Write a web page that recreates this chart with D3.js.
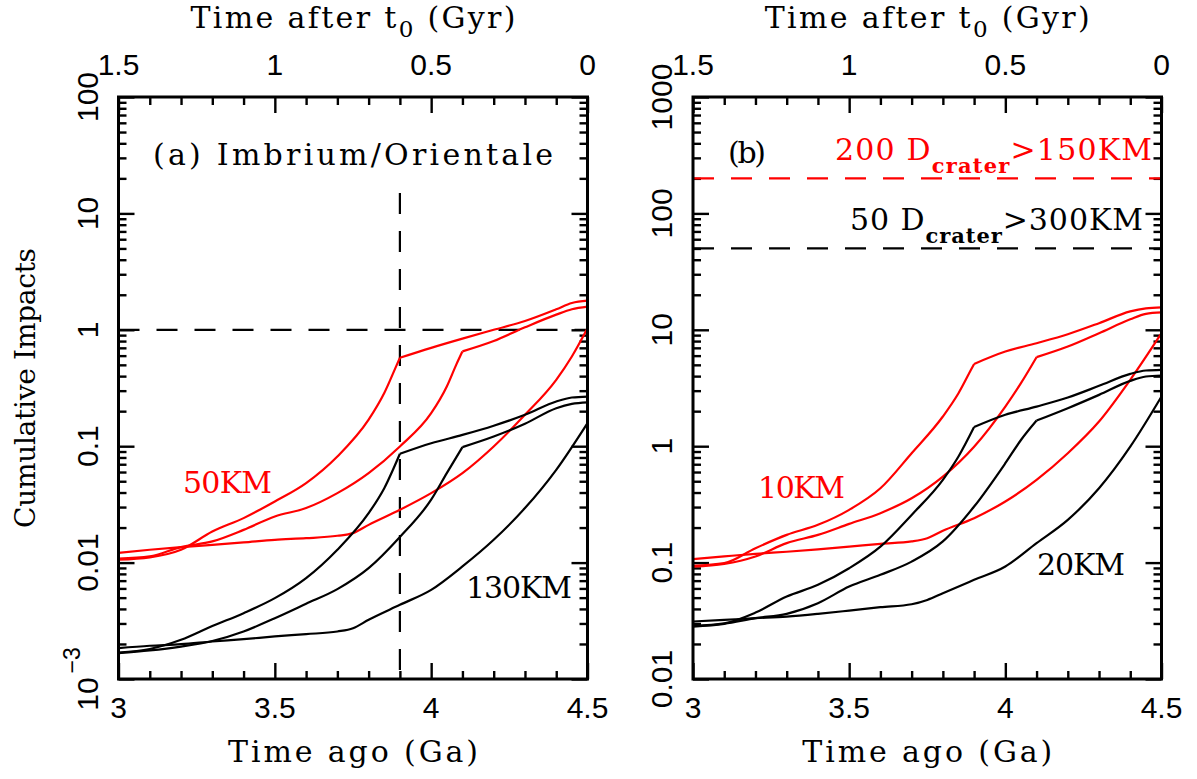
<!DOCTYPE html>
<html><head><meta charset="utf-8">
<script src="https://cdn.jsdelivr.net/npm/d3@7"></script>
<style>body{margin:0;background:#fff}</style>
</head><body>
<svg id="c" width="1197" height="779" xmlns="http://www.w3.org/2000/svg"></svg>
<script>
// ---------- data ----------
const timeDomain = [3, 4.5];
const xMajorTicks = [3, 3.5, 4, 4.5];
const bottomTickLabels = ["3", "3.5", "4", "4.5"];
const topTickLabels = ["1.5", "1", "0.5", "0"];
const yDomainA = [1e-3, 100];
const yDomainB = [0.01, 1000];
const yTicksA = [1e-3, 0.01, 0.1, 1, 10, 100];
const yTickLabelsA = ["10^−3", "0.01", "0.1", "1", "10", "100"];
const yTicksB = [0.01, 0.1, 1, 10, 100, 1000];
const yTickLabelsB = ["0.01", "0.1", "1", "10", "100", "1000"];
const kinkTimes = [3.9, 4.1];

// panel (a): 50 km (red) and 130 km (black)
const aRed39 = [[3.0,0.0106],[3.1,0.0111],[3.2,0.0129],[3.3,0.0185],[3.4,0.0241],[3.5,0.0335],[3.6,0.0482],[3.7,0.0816],[3.8,0.169],[3.85,0.286],[3.89,0.50],[3.9,0.575],[4.0,0.70],[4.1,0.84],[4.2,1.0],[4.3,1.19],[4.4,1.5],[4.45,1.70],[4.5,1.78]];
const aRed41 = [[3.0,0.0108],[3.1,0.0113],[3.2,0.0136],[3.3,0.0152],[3.4,0.0191],[3.5,0.0249],[3.6,0.0294],[3.7,0.0395],[3.8,0.0587],[3.9,0.0995],[4.0,0.192],[4.05,0.326],[4.08,0.50],[4.1,0.652],[4.2,0.80],[4.3,1.05],[4.4,1.35],[4.45,1.50],[4.5,1.58]];
const aRedNone = [[3.0,0.0121],[3.1,0.0129],[3.2,0.0136],[3.3,0.0142],[3.4,0.0149],[3.5,0.0157],[3.6,0.0162],[3.7,0.0170],[3.75,0.0179],[3.8,0.0211],[3.9,0.0284],[4.0,0.0395],[4.1,0.0587],[4.2,0.0995],[4.3,0.186],[4.4,0.372],[4.45,0.59],[4.5,1.03]];
const aBlack39 = [[3.0,0.00169],[3.1,0.00181],[3.2,0.00217],[3.3,0.00285],[3.4,0.00368],[3.5,0.00495],[3.6,0.00736],[3.7,0.0129],[3.8,0.0266],[3.85,0.0436],[3.9,0.0861],[4.0,0.106],[4.1,0.125],[4.2,0.150],[4.3,0.186],[4.4,0.242],[4.45,0.262],[4.5,0.267]];
const aBlack41 = [[3.0,0.00167],[3.1,0.00176],[3.2,0.00190],[3.3,0.00212],[3.4,0.00256],[3.5,0.00333],[3.6,0.00443],[3.7,0.00592],[3.8,0.00896],[3.9,0.0166],[4.0,0.0347],[4.05,0.0587],[4.1,0.0982],[4.2,0.121],[4.3,0.156],[4.4,0.212],[4.45,0.231],[4.5,0.238]];
const aBlackNone = [[3.0,0.00184],[3.1,0.00193],[3.2,0.00199],[3.3,0.00210],[3.4,0.00220],[3.5,0.00232],[3.6,0.00243],[3.7,0.00256],[3.75,0.00273],[3.8,0.00323],[3.9,0.00434],[4.0,0.00583],[4.1,0.00927],[4.2,0.0157],[4.3,0.0294],[4.4,0.0627],[4.5,0.158]];

// panel (b): 10 km (red) and 20 km (black)
const bRed39 = [[3.0,0.0937],[3.1,0.0989],[3.2,0.133],[3.3,0.173],[3.4,0.211],[3.5,0.284],[3.6,0.435],[3.7,0.871],[3.8,1.80],[3.85,2.85],[3.89,4.53],[3.9,5.09],[4.0,6.50],[4.1,7.67],[4.2,9.16],[4.3,11.4],[4.4,14.4],[4.45,15.3],[4.5,15.6]];
const bRed41 = [[3.0,0.0925],[3.1,0.0975],[3.2,0.113],[3.3,0.147],[3.4,0.173],[3.5,0.215],[3.6,0.266],[3.7,0.357],[3.8,0.548],[3.9,0.99],[4.0,2.19],[4.05,3.48],[4.1,5.82],[4.2,7.18],[4.3,9.35],[4.4,12.3],[4.45,13.7],[4.5,14.1]];
const bRedNone = [[3.0,0.107],[3.1,0.113],[3.2,0.119],[3.3,0.124],[3.4,0.130],[3.5,0.137],[3.6,0.145],[3.7,0.152],[3.75,0.162],[3.8,0.188],[3.9,0.241],[4.0,0.335],[4.1,0.514],[4.2,0.871],[4.3,1.63],[4.4,3.72],[4.5,9.35]];
const bBlack39 = [[3.0,0.0286],[3.1,0.0301],[3.2,0.0372],[3.3,0.0511],[3.4,0.0644],[3.5,0.0895],[3.6,0.137],[3.7,0.257],[3.8,0.514],[3.85,0.815],[3.9,1.46],[4.0,1.86],[4.1,2.19],[4.2,2.62],[4.3,3.30],[4.4,4.18],[4.45,4.47],[4.5,4.53]];
const bBlack41 = [[3.0,0.0282],[3.1,0.0298],[3.2,0.0333],[3.3,0.0363],[3.4,0.0448],[3.5,0.0622],[3.6,0.0785],[3.7,0.102],[3.8,0.152],[3.9,0.303],[4.0,0.714],[4.05,1.13],[4.1,1.66],[4.2,2.12],[4.3,2.76],[4.4,3.64],[4.45,3.97],[4.5,4.05]];
const bBlackNone = [[3.0,0.0312],[3.1,0.0322],[3.2,0.0333],[3.3,0.0344],[3.4,0.0363],[3.5,0.0387],[3.6,0.0414],[3.7,0.0439],[3.75,0.0478],[3.8,0.0546],[3.9,0.0711],[4.0,0.0925],[4.1,0.147],[4.2,0.233],[4.3,0.435],[4.4,0.99],[4.5,2.67]];

const referenceA = {hLine: 1, vLine: 3.9, vTop: 15};
const referenceB = [{value: 200, color: "#ff0000"}, {value: 50, color: "#000000"}];

// ---------- drawing ----------
const svg = d3.select("#c");
const SERIF = "'DejaVu Serif', serif";
const SANS = "'Liberation Sans', Arial, sans-serif";
const RED = "#ff0000";

function serifText(g, x, y, str, len, opts = {}) {
  const t = g.append("text").attr("x", x).attr("y", y).attr("font-family", SERIF)
    .attr("font-size", opts.size || 30).attr("fill", opts.color || "#000")
    .attr("text-anchor", opts.anchor || "start");
  if (len) t.attr("textLength", len).attr("lengthAdjust", "spacing");
  if (str != null) t.text(str);
  return t;
}

function drawPanel(opt) {
  const x = d3.scaleLinear().domain(timeDomain).range(opt.xr);
  const y = d3.scaleLog().domain(opt.yDomain).range([679, 97]);
  const g = svg.append("g");
  const top = 97, bot = 679;

  const xMinor = d3.range(31, 45).map(v => v/10).filter(v => !xMajorTicks.some(m => Math.abs(m-v) < 1e-6));
  const yMinor = [];
  const lo = Math.log10(opt.yDomain[0]), hi = Math.log10(opt.yDomain[1]);
  for (let e = lo; e < hi; e++) for (let k = 2; k <= 9; k++) yMinor.push(k*Math.pow(10, e));

  function axisG(axis, tr) {
    const a = g.append("g").attr("transform", tr).call(axis);
    a.select(".domain").remove();
    a.selectAll("line").attr("stroke", "#000").attr("stroke-width", 2.4);
    a.selectAll("text").remove();
  }
  axisG(d3.axisBottom(x).tickValues(xMajorTicks).tickSize(-16), `translate(0,${bot})`);
  axisG(d3.axisBottom(x).tickValues(xMinor).tickSize(-8), `translate(0,${bot})`);
  axisG(d3.axisTop(x).tickValues(xMajorTicks).tickSize(-16), `translate(0,${top})`);
  axisG(d3.axisTop(x).tickValues(xMinor).tickSize(-8), `translate(0,${top})`);
  axisG(d3.axisLeft(y).tickValues(opt.yTicks).tickSize(-16), `translate(${opt.xr[0]},0)`);
  axisG(d3.axisLeft(y).tickValues(yMinor).tickSize(-8), `translate(${opt.xr[0]},0)`);
  axisG(d3.axisRight(y).tickValues(opt.yTicks).tickSize(-16), `translate(${opt.xr[1]},0)`);
  axisG(d3.axisRight(y).tickValues(yMinor).tickSize(-8), `translate(${opt.xr[1]},0)`);

  opt.refs(g, x, y);

  const line = d3.line().x(d => x(d[0])).y(d => y(d[1])).curve(d3.curveMonotoneX);
  opt.series.forEach(s => {
    const segs = s.kink == null ? [s.data] :
      [s.data.filter(d => d[0] <= s.kink + 1e-9), s.data.filter(d => d[0] >= s.kink - 1e-9)];
    segs.forEach(seg => g.append("path").attr("d", line(seg)).attr("fill", "none")
      .attr("stroke", s.color).attr("stroke-width", 2.2).attr("stroke-linejoin", "round"));
  });

  g.append("rect").attr("x", opt.xr[0]).attr("y", top).attr("width", opt.xr[1]-opt.xr[0]).attr("height", bot-top)
    .attr("fill", "none").attr("stroke", "#000").attr("stroke-width", 3);

  xMajorTicks.forEach((t, i) => {
    g.append("text").attr("x", x(t)).attr("y", 718).attr("text-anchor", "middle")
      .attr("font-family", SANS).attr("font-size", 30).text(bottomTickLabels[i]);
    g.append("text").attr("x", x(t)).attr("y", 75).attr("text-anchor", "middle")
      .attr("font-family", SANS).attr("font-size", 30).text(topTickLabels[i]);
  });
  opt.yTicks.forEach((t, i) => {
    const lab = opt.yLabels[i];
    const tx = g.append("text").attr("transform", `translate(${opt.xr[0]-21},${y(t)}) rotate(-90)`)
      .attr("text-anchor", "middle").attr("font-family", SANS).attr("font-size", 30);
    if (lab.includes("^")) {
      const [b, p] = lab.split("^");
      tx.append("tspan").text(b);
      tx.append("tspan").attr("dy", -18).attr("dx", 4).attr("font-size", 23).text(p);
    } else tx.text(lab);
  });

  const cx = (opt.xr[0] + opt.xr[1]) / 2;
  serifText(g, cx, 762, "Time ago (Ga)", 250, {anchor: "middle"});
  const tt = serifText(g, cx, 28, null, 325, {anchor: "middle"});
  tt.append("tspan").text("Time after t");
  tt.append("tspan").attr("dy", 9).attr("font-size", 23).text("0");
  tt.append("tspan").attr("dy", -9).text(" (Gyr)");

  opt.labels(g);
}

drawPanel({
  xr: [118.5, 587.5], yDomain: yDomainA, yTicks: yTicksA, yLabels: yTickLabelsA,
  series: [
    {data: aRed39, color: RED, kink: kinkTimes[0]},
    {data: aRed41, color: RED, kink: kinkTimes[1]},
    {data: aRedNone, color: RED},
    {data: aBlack39, color: "#000", kink: kinkTimes[0]},
    {data: aBlack41, color: "#000", kink: kinkTimes[1]},
    {data: aBlackNone, color: "#000"}
  ],
  refs: (g, x, y) => {
    g.append("line").attr("x1", x(timeDomain[0])).attr("x2", x(timeDomain[1]))
      .attr("y1", y(referenceA.hLine)).attr("y2", y(referenceA.hLine))
      .attr("stroke", "#000").attr("stroke-width", 2.2).attr("stroke-dasharray", "21,17");
    g.append("line").attr("x1", x(referenceA.vLine)).attr("x2", x(referenceA.vLine))
      .attr("y1", y(referenceA.vTop)).attr("y2", y(yDomainA[0]))
      .attr("stroke", "#000").attr("stroke-width", 2.2).attr("stroke-dasharray", "21,17");
  },
  labels: g => {
    serifText(g, 153, 165, "(a) Imbrium/Orientale", 400);
    serifText(g, 183, 493, "50KM", 89, {color: RED});
    serifText(g, 466, 598, "130KM", 106);
  }
});

drawPanel({
  xr: [693, 1161.5], yDomain: yDomainB, yTicks: yTicksB, yLabels: yTickLabelsB,
  series: [
    {data: bRed39, color: RED, kink: kinkTimes[0]},
    {data: bRed41, color: RED, kink: kinkTimes[1]},
    {data: bRedNone, color: RED},
    {data: bBlack39, color: "#000", kink: kinkTimes[0]},
    {data: bBlack41, color: "#000", kink: kinkTimes[1]},
    {data: bBlackNone, color: "#000"}
  ],
  refs: (g, x, y) => {
    referenceB.forEach(r => {
      g.append("line").attr("x1", x(timeDomain[0])).attr("x2", x(timeDomain[1]))
        .attr("y1", y(r.value)).attr("y2", y(r.value))
        .attr("stroke", r.color).attr("stroke-width", 2.2).attr("stroke-dasharray", "21,17");
    });
  },
  labels: g => {
    serifText(g, 728, 163, "(b)", 38);
    function dLabel(num, txt, xStart, yb, len, color) {
      const t = serifText(g, xStart, yb, null, len, {color});
      t.append("tspan").text(num + " D");
      t.append("tspan").attr("dy", 13).attr("font-size", 21).attr("font-weight", "bold").text("crater");
      t.append("tspan").attr("dy", -13).text(txt);
    }
    dLabel("200", ">150KM", 835, 160, 317, RED);
    dLabel("50", ">300KM", 850, 230, 293, "#000");
    serifText(g, 758, 498, "10KM", 87, {color: RED});
    serifText(g, 1037, 575, "20KM", 88);
  }
});

svg.append("text").attr("transform", "translate(35,388) rotate(-90)").attr("text-anchor", "middle")
  .attr("font-family", SERIF).attr("font-size", 28)
  .attr("textLength", 280).attr("lengthAdjust", "spacing").text("Cumulative Impacts");
</script>
</body></html>
